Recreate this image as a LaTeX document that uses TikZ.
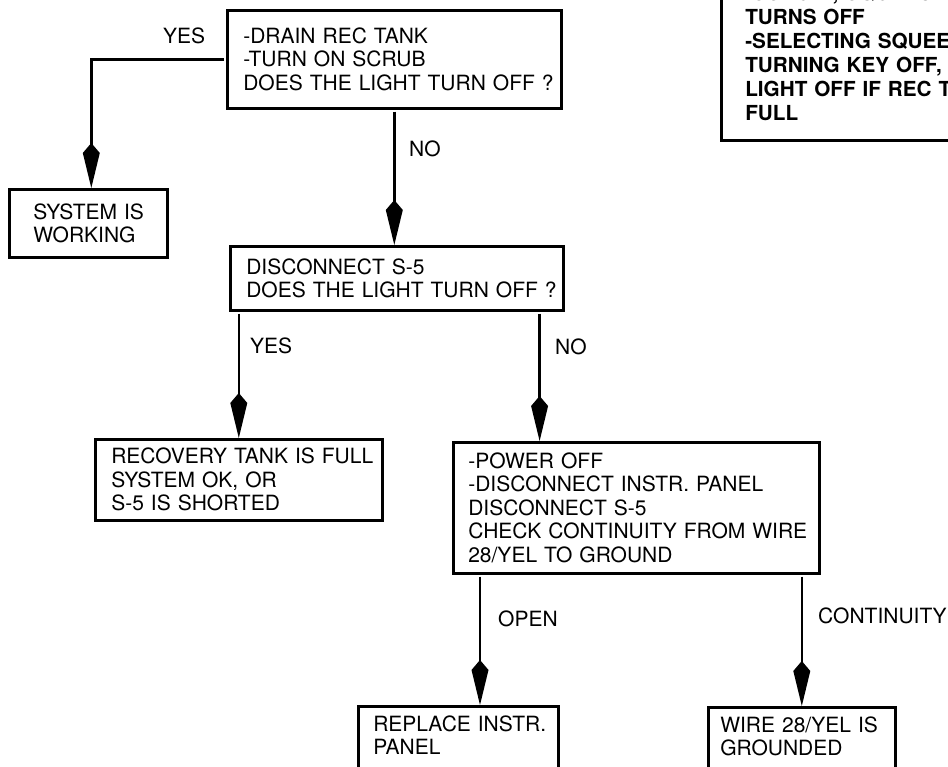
\documentclass[tikz,border=0pt]{standalone}
\usepackage{fontspec}
\setmainfont{TeX Gyre Heros}
\usetikzlibrary{arrows.meta,calc}
\newcommand\oneline[1]{\mbox{#1}}
\tikzset{
  box/.style={draw=black, line width=2.6pt, rectangle, anchor=north west, align=left,
    font=\fontsize{21}{23.5}\selectfont, inner ysep=0pt},
  lbl/.style={anchor=west, inner sep=0pt, font=\fontsize{21}{23.5}\selectfont},
  arr/.style={line width=2.6pt, -{Kite[length=45pt,width=17pt,inset=10pt]}, shorten <=2pt},
}
\begin{document}
\begin{tikzpicture}[x=1pt,y=-1pt]
\useasboundingbox (0,0) rectangle (948,767);
\fill[white] (0,0) rectangle (948,767);
\clip (0,0) rectangle (948,767);

% top-right (cut) note box
\node[box, anchor=south west, inner xsep=24pt, inner ysep=20pt, text width=320pt,
      font=\bfseries\fontsize{20.7}{24}\selectfont] (note) at (720,142)
  {\oneline{-SCRUB , SQUEEGE}\\\oneline{TURNS OFF}\\\oneline{-SELECTING SQUEE}\\\oneline{TURNING KEY OFF, T}\\\oneline{LIGHT OFF IF REC TA}\\FULL};

% main boxes
\node[box, inner xsep=16pt, text width=302pt, minimum height=98pt] (b1) at (226,9)
  {\oneline{-DRAIN REC TANK}\\\oneline{-TURN ON SCRUB}\\\oneline{DOES THE LIGHT TURN OFF ?}};
\node[box, inner xsep=24pt, text width=110pt, minimum height=68pt] (sys) at (8,188)
  {\oneline{SYSTEM IS}\\\oneline{WORKING}};
\node[box, inner xsep=16pt, text width=301pt, minimum height=64pt] (b2) at (229,245)
  {\oneline{DISCONNECT S-5}\\\oneline{DOES THE LIGHT TURN OFF ?}};
\node[box, inner xsep=16pt, text width=255pt, minimum height=81pt] (b3) at (94,438)
  {\oneline{RECOVERY TANK IS FULL}\\\oneline{SYSTEM OK, OR}\\\oneline{S-5 IS SHORTED}};
\node[box, inner xsep=15pt, text width=336pt, minimum height=131pt] (b4) at (452,441)
  {\oneline{-POWER OFF}\\\oneline{-DISCONNECT INSTR. PANEL}\\\oneline{DISCONNECT S-5}\\\oneline{CHECK CONTINUITY FROM WIRE}\\\oneline{28/YEL TO GROUND}};
\node[box, inner xsep=15pt, inner ysep=9.5pt, text width=170pt, text depth=60pt] (rep) at (357,705)
  {\oneline{REPLACE INSTR.}\\\oneline{PANEL}};
\node[box, inner xsep=12pt, inner ysep=9.5pt, text width=163pt, text depth=60pt] (wire) at (707,706)
  {\oneline{WIRE 28/YEL IS}\\\oneline{GROUNDED}};

% labels
\node[lbl] (lyes1) at (163,36) {YES};
\node[lbl] (lno1) at (409,149) {NO};
\node[lbl] (lyes2) at (250,346) {YES};
\node[lbl] (lno2) at (555,347) {NO};
\node[lbl] (lopen) at (498,619) {OPEN};
\node[lbl] (lcont) at (818,616) {CONTINUITY};

% connectors
\draw[arr] (b1.west) -| ([xshift=3pt]sys.north);
\draw[arr] (b1.south) -- (b1.south |- b2.north);
\draw[arr] (b3.north |- b2.south) -- (b3.north);
\draw[arr] ([xshift=-25pt]b2.south east) -- ([xshift=-25pt]b2.south east |- b4.north);
\draw[arr] ([xshift=28pt]b4.south west) -- ([xshift=28pt]b4.south west |- rep.north);
\draw[arr] (wire.north |- b4.south) -- (wire.north);
\end{tikzpicture}
\end{document}
